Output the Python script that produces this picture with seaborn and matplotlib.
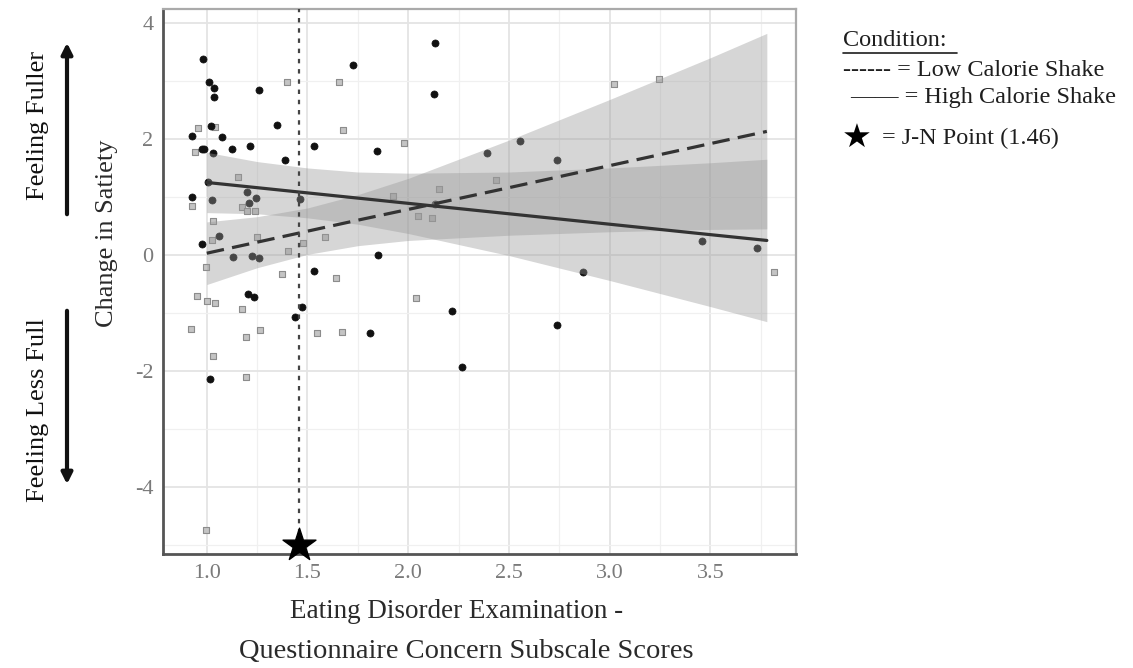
import numpy as np
import pandas as pd
import seaborn as sns
import matplotlib.pyplot as plt
from matplotlib.ticker import MultipleLocator, FormatStrFormatter
from matplotlib.patches import FancyArrowPatch
from matplotlib.lines import Line2D

# --- observed scores: high calorie shake (black) ---
high_x = [0.983, 1.011, 1.038, 1.038, 1.261, 1.347, 1.020, 0.926, 1.074, 0.975,
          0.988, 1.033, 1.124, 1.215, 1.533, 1.390, 1.728, 2.133, 2.130, 1.844,
          2.390, 2.555, 2.740, 3.460, 3.730, 2.870, 2.737, 2.133, 1.852, 2.216,
          1.810, 2.265, 1.008, 1.198, 0.926, 1.025, 1.210, 1.245, 1.463, 1.063,
          0.978, 1.132, 1.223, 1.261, 1.530, 1.206, 1.235, 1.474, 1.440, 1.016]
high_y = [3.37, 2.99, 2.88, 2.73, 2.84, 2.24, 2.22, 2.05, 2.04, 1.82,
          1.83, 1.75, 1.82, 1.88, 1.87, 1.64, 3.28, 3.66, 2.78, 1.80,
          1.76, 1.97, 1.64, 0.24, 0.115, -0.30, -1.21, 0.87, 0.00, -0.97,
          -1.35, -1.94, 1.26, 1.08, 1.00, 0.94, 0.90, 0.98, 0.96, 0.32,
          0.19, -0.03, -0.02, -0.05, -0.28, -0.68, -0.72, -0.89, -1.07, -2.14]

# --- observed scores: low calorie shake (grey) ---
low_x = [1.400, 1.655, 0.958, 1.041, 0.942, 1.675, 1.979, 3.023, 3.245, 3.815,
         1.923, 2.154, 2.434, 2.050, 2.117, 1.642, 2.039, 1.670, 1.157, 0.926,
         1.174, 1.200, 1.240, 1.033, 1.587, 1.248, 1.025, 1.480, 1.405, 0.997,
         1.372, 0.950, 1.000, 1.041, 1.174, 0.922, 1.194, 1.265, 1.546, 1.033,
         1.194, 0.997]
low_y = [2.99, 2.99, 2.19, 2.21, 1.77, 2.16, 1.93, 2.95, 3.03, -0.29,
         1.02, 1.14, 1.29, 0.67, 0.63, -0.39, -0.74, -1.32, 1.34, 0.845,
         0.83, 0.75, 0.75, 0.59, 0.305, 0.305, 0.26, 0.21, 0.07, -0.21,
         -0.33, -0.71, -0.80, -0.83, -0.94, -1.28, -1.41, -1.29, -1.35, -1.74,
         -2.11, -4.75]

# --- model-implied simple slopes with 95% confidence bands ---
fit_x = [1.0, 1.25, 1.5, 1.75, 2.0, 2.5, 3.0, 3.5, 3.78]
high_fit = [1.25, 1.16, 1.07, 0.98, 0.89, 0.71, 0.53, 0.35, 0.25]
high_lo = [0.73, 0.71, 0.64, 0.53, 0.37, -0.01, -0.44, -0.89, -1.15]
high_hi = [1.77, 1.61, 1.50, 1.43, 1.41, 1.43, 1.50, 1.59, 1.65]
low_fit = [0.03, 0.22, 0.41, 0.60, 0.785, 1.16, 1.54, 1.92, 2.13]
low_lo = [-0.51, -0.22, 0.01, 0.16, 0.25, 0.34, 0.40, 0.44, 0.45]
low_hi = [0.57, 0.66, 0.81, 1.04, 1.32, 1.98, 2.68, 3.40, 3.82]

# Johnson-Neyman point
jn_x = 1.46
jn_y = -5.0

points = pd.concat([
    pd.DataFrame({"ede_q": high_x, "satiety": high_y, "condition": "High"}),
    pd.DataFrame({"ede_q": low_x, "satiety": low_y, "condition": "Low"}),
], ignore_index=True)

sns.set_style("white")
plt.rcParams['font.family'] = ['Liberation Serif', 'DejaVu Sans']
plt.rcParams['axes.unicode_minus'] = False

fig = plt.figure(figsize=(11.33, 6.68), dpi=100)
ax = fig.add_axes([0.1439, 0.1707, 0.5587, 0.8158])

# scatter of raw scores
sns.scatterplot(data=points[points.condition == "Low"], x="ede_q", y="satiety",
                marker="s", s=22, color="#c4c4c4", edgecolor="#8c8c8c",
                linewidth=0.8, ax=ax, zorder=2, legend=False)
sns.scatterplot(data=points[points.condition == "High"], x="ede_q", y="satiety",
                marker="o", s=26, color="#111111", edgecolor="#111111",
                linewidth=0.5, ax=ax, zorder=2, legend=False)

# confidence ribbons
ax.fill_between(fit_x, low_lo, low_hi, color="#999999", alpha=0.4, lw=0, zorder=3)
ax.fill_between(fit_x, high_lo, high_hi, color="#999999", alpha=0.4, lw=0, zorder=3)

# regression lines
sns.lineplot(x=fit_x, y=high_fit, color="#333333", lw=2.3, ax=ax, zorder=4)
sns.lineplot(x=fit_x, y=low_fit, color="#333333", lw=2.3, ax=ax, zorder=4)
ax.lines[-1].set_dashes((5.5, 2.6))

# J-N marker and reference line
ax.axvline(jn_x, color="#444444", lw=1.6, ls=(0, (2.0, 2.6)), zorder=4)
ax.scatter([jn_x], [jn_y], marker="*", s=620, color="black", zorder=6, clip_on=False)

ax.set_xlim(0.783, 3.925)
ax.set_ylim(-5.155, 4.24)
ax.xaxis.set_major_locator(MultipleLocator(0.5))
ax.xaxis.set_minor_locator(MultipleLocator(0.25))
ax.xaxis.set_major_formatter(FormatStrFormatter("%.1f"))
ax.yaxis.set_major_locator(MultipleLocator(2))
ax.yaxis.set_minor_locator(MultipleLocator(1))
ax.grid(which="major", color="#e4e4e4", lw=1.3)
ax.grid(which="minor", color="#f0f0f0", lw=0.9)
ax.set_axisbelow(True)

ax.tick_params(which="major", length=4, width=1.5, color="#555555",
               labelcolor="#7a7a7a", labelsize=16, pad=3)
ax.tick_params(which="minor", length=0)
for side in ["left", "bottom"]:
    ax.spines[side].set_color("#555555")
    ax.spines[side].set_linewidth(2.0)
for side in ["top", "right"]:
    ax.spines[side].set_color("#aaaaaa")
    ax.spines[side].set_linewidth(1.6)
ax.set_xlabel("")
ax.set_ylabel("")

W, H = 1133, 668


def fx(px):
    return px / W


def fy(py):
    return 1 - py / H


# axis titles
fig.text(fx(457), fy(612), "Eating Disorder Examination -", ha="center", va="center",
         fontsize=19.5, color="#2a2a2a")
fig.text(fx(466), fy(651), "Questionnaire Concern Subscale Scores", ha="center",
         va="center", fontsize=20.5, color="#2a2a2a")
fig.text(fx(107), fy(233), "Change in Satiety", rotation=90, ha="center", va="center",
         fontsize=19, color="#2a2a2a")

# direction annotations
fig.text(fx(38), fy(125), "Feeling Fuller", rotation=90, ha="center", va="center",
         fontsize=19, color="#111111")
fig.text(fx(38), fy(410), "Feeling Less Full", rotation=90, ha="center", va="center",
         fontsize=19, color="#111111")
for y0, y1 in [(217, 40), (308, 487)]:
    fig.add_artist(FancyArrowPatch((fx(67), fy(y0)), (fx(67), fy(y1)),
                                   transform=fig.transFigure, arrowstyle="-|>",
                                   mutation_scale=16, lw=3, color="#111111"))

# key
fig.text(fx(843), fy(40), "Condition:", ha="left", va="center", fontsize=17.5, color="#1e1e1e")
fig.add_artist(Line2D([fx(843), fx(957)], [fy(53), fy(53)], transform=fig.transFigure,
                      color="#1e1e1e", lw=1.2))
fig.text(fx(843), fy(70), "------ = Low Calorie Shake", ha="left", va="center",
         fontsize=17.5, color="#1e1e1e")
fig.text(fx(850), fy(98), "\u2014\u2014 = High Calorie Shake", ha="left", va="center",
         fontsize=17.5, color="#1e1e1e")
fig.text(fx(842), fy(138), "\u2605", ha="left", va="center", fontsize=24,
         color="black", family=["DejaVu Sans"])
fig.text(fx(882), fy(138), "= J-N Point (1.46)", ha="left", va="center",
         fontsize=17.5, color="#1e1e1e")

fig.savefig("out.png", dpi=100)
